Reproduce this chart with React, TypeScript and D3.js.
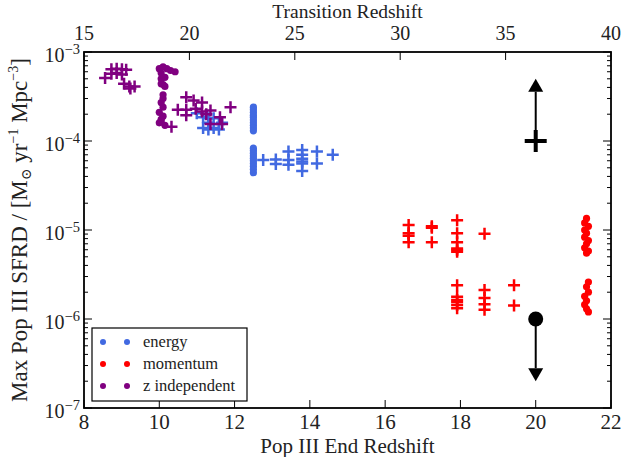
import React from "react";
import * as d3 from "d3";

// ---------- data ----------
// dots: x = Pop III end redshift (bottom axis); pluses: x = transition redshift (top axis)
const energyDots: [number, number][] = [
  [12.5, 2.4e-4], [12.5, 2.25e-4], [12.5, 2.1e-4], [12.5, 1.95e-4], [12.5, 1.85e-4],
  [12.5, 1.72e-4], [12.5, 1.6e-4], [12.5, 1.5e-4], [12.5, 1.4e-4], [12.5, 1.3e-4],
  [12.5, 8.3e-5], [12.5, 7.8e-5], [12.5, 7.3e-5], [12.5, 6.8e-5], [12.5, 6.4e-5],
  [12.5, 6.0e-5], [12.5, 5.6e-5], [12.5, 5.2e-5], [12.5, 4.8e-5], [12.5, 4.4e-5],
];
const energyPlus: [number, number][] = [
  [20.35, 2.05e-4], [20.65, 1.85e-4], [20.9, 1.8e-4], [20.65, 1.4e-4], [20.9, 1.6e-4],
  [21.15, 1.8e-4], [21.15, 1.4e-4], [21.4, 1.55e-4], [21.4, 1.35e-4], [21.55, 1.6e-4],
  [20.9, 1.35e-4],
  [23.5, 6.1e-5], [24.1, 6.2e-5], [24.1, 5.5e-5], [24.7, 7.6e-5], [24.7, 6.1e-5],
  [24.7, 5.4e-5], [25.35, 7.9e-5], [25.35, 7.0e-5], [25.35, 6.3e-5], [25.35, 5.9e-5],
  [25.35, 5.6e-5], [25.35, 4.6e-5], [26.05, 7.6e-5], [26.05, 5.6e-5], [26.8, 7.0e-5],
];
const momentumDots: [number, number][] = [
  [21.35, 1.35e-5], [21.3, 1.2e-5], [21.4, 1.1e-5], [21.3, 1.0e-5], [21.35, 9.2e-6],
  [21.3, 8.3e-6], [21.4, 7.6e-6], [21.35, 7.0e-6], [21.3, 6.3e-6], [21.4, 5.8e-6],
  [21.35, 5.5e-6], [21.4, 2.6e-6], [21.35, 2.3e-6], [21.4, 2.0e-6], [21.3, 1.8e-6],
  [21.35, 1.6e-6], [21.3, 1.45e-6], [21.35, 1.3e-6], [21.4, 1.2e-6],
];
const momentumPlus: [number, number][] = [
  [30.4, 1.14e-5], [30.4, 9.2e-6], [30.4, 8.6e-6], [30.4, 7.3e-6],
  [31.5, 1.1e-5], [31.5, 1.06e-5], [31.5, 7.3e-6],
  [32.7, 1.29e-5], [32.7, 9.2e-6], [32.7, 7.3e-6], [32.7, 6.2e-6], [32.7, 5.95e-6], [32.7, 5.7e-6],
  [32.7, 2.4e-6], [32.7, 1.78e-6], [32.7, 1.63e-6], [32.7, 1.55e-6], [32.7, 1.44e-6], [32.7, 1.32e-6],
  [34.0, 9.05e-6], [34.0, 2.12e-6], [34.0, 1.72e-6], [34.0, 1.46e-6], [34.0, 1.27e-6],
  [35.4, 2.4e-6], [35.4, 1.42e-6],
];
const zindDots: [number, number][] = [
  [10.0, 6.5e-4], [10.1, 6.8e-4], [10.2, 6.5e-4], [10.3, 6.2e-4], [10.42, 6.0e-4],
  [10.05, 5.8e-4], [10.15, 5.2e-4], [10.05, 5.0e-4], [10.1, 4.3e-4], [10.15, 4.1e-4],
  [10.05, 4.4e-4], [10.1, 3.3e-4], [10.1, 3.0e-4], [10.05, 2.7e-4], [10.1, 2.4e-4],
  [10.0, 2.1e-4], [10.1, 1.9e-4], [10.05, 1.75e-4], [10.0, 1.6e-4], [10.15, 1.5e-4],
  [10.05, 1.65e-4],
];
const zindPlus: [number, number][] = [
  [16.0, 5.1e-4], [16.3, 6.4e-4], [16.55, 6.5e-4], [16.8, 6.4e-4], [17.0, 6.3e-4],
  [16.3, 5.7e-4], [16.55, 5.8e-4], [16.8, 5.6e-4], [16.9, 4.4e-4], [17.15, 4.1e-4],
  [17.4, 4.1e-4], [17.2, 3.9e-4],
  [19.85, 3.1e-4], [20.2, 2.85e-4], [20.6, 2.7e-4], [19.45, 2.25e-4], [19.85, 2.25e-4],
  [19.85, 1.95e-4], [20.3, 2.3e-4], [20.6, 2.15e-4], [21.0, 2.2e-4], [21.45, 1.85e-4],
  [21.55, 1.55e-4], [21.0, 1.55e-4], [19.15, 1.45e-4], [21.95, 2.4e-4], [20.8, 2.0e-4],
];
// observational limits (bottom axis x)
const lowerLimit: [number, number, number] = [20, 1e-4, 5e-4]; // plus, arrow up to
const upperLimit: [number, number, number] = [20, 1e-6, 2e-7]; // dot, arrow down to

const bottomTicks = [8, 10, 12, 14, 16, 18, 20, 22];
const topTicks = [15, 20, 25, 30, 35, 40];
const yExponents = [-3, -4, -5, -6, -7];
const legendLabels = ["energy", "momentum", "z independent"];
const colors = ["#4169E1", "#FF0000", "#800080"];

// ---------- layout ----------
const W = 622, H = 457;
const L = 84, R = 611, T = 52, B = 408;
const FONT = "'Liberation Serif', 'DejaVu Serif', serif";

export default function App() {
  const x = d3.scaleLinear().domain([8, 22]).range([L, R]);
  const xt = d3.scaleLinear().domain([15, 40]).range([L, R]);
  const y = d3.scaleLog().domain([1e-7, 1e-3]).range([B, T]);

  const minor: number[] = [];
  for (let e = -7; e < -3; e++) for (let m = 2; m <= 9; m++) minor.push(m * Math.pow(10, e));

  const plus = (cx: number, cy: number, h: number, col: string, sw: number, k: string) => (
    <path key={k} d={`M${cx - h},${cy}H${cx + h}M${cx},${cy - h}V${cy + h}`} stroke={col} strokeWidth={sw} fill="none" />
  );

  const groupsDots = [energyDots, momentumDots, zindDots];
  const groupsPlus = [energyPlus, momentumPlus, zindPlus];

  const lx = x(lowerLimit[0]);
  const ly0 = y(lowerLimit[1]);
  const ly1 = y(lowerLimit[2]);
  const ux = x(upperLimit[0]);
  const uy0 = y(upperLimit[1]);
  const uy1 = y(upperLimit[2]);
  const ah = 13, aw = 7.5;

  return (
    <svg width={W} height={H} style={{ position: "absolute", left: 0, top: 0, background: "#fff" }} fontFamily={FONT}>
      <rect width={W} height={H} fill="#fff" />
      {/* data */}
      {[0, 1, 2].map((g) => (
        <g key={g}>
          {groupsPlus[g].map((d, i) => plus(xt(d[0]), y(d[1]), 6, colors[g], 2.5, `p${g}-${i}`))}
          {groupsDots[g].map((d, i) => (
            <circle key={`d${g}-${i}`} cx={x(d[0])} cy={y(d[1])} r={3.6} fill={colors[g]} />
          ))}
        </g>
      ))}
      {/* limits */}
      <line x1={lx} x2={lx} y1={ly0} y2={ly1 + ah} stroke="#000" strokeWidth={2} />
      <path d={`M${lx},${ly1}L${lx - aw},${ly1 + ah}L${lx + aw},${ly1 + ah}Z`} fill="#000" />
      {plus(lx, ly0, 11, "#000", 4, "lim-plus")}
      <line x1={ux} x2={ux} y1={uy0} y2={uy1 - ah} stroke="#000" strokeWidth={2} />
      <path d={`M${ux},${uy1}L${ux - aw},${uy1 - ah}L${ux + aw},${uy1 - ah}Z`} fill="#000" />
      <circle cx={ux} cy={uy0} r={7.5} fill="#000" />

      {/* ticks */}
      <g stroke="#000" strokeWidth={1}>
        {yExponents.map((e) => {
          const yy = y(Math.pow(10, e));
          return (
            <g key={`ym${e}`}>
              <line x1={L} x2={L + 8} y1={yy} y2={yy} />
              <line x1={R} x2={R - 8} y1={yy} y2={yy} />
            </g>
          );
        })}
        {minor.map((v, i) => (
          <g key={`yn${i}`}>
            <line x1={L} x2={L + 4} y1={y(v)} y2={y(v)} />
            <line x1={R} x2={R - 4} y1={y(v)} y2={y(v)} />
          </g>
        ))}
        {bottomTicks.map((t) => (
          <line key={`bt${t}`} x1={x(t)} x2={x(t)} y1={B} y2={B - 8} />
        ))}
        {topTicks.map((t) => (
          <line key={`tt${t}`} x1={xt(t)} x2={xt(t)} y1={T} y2={T + 8} />
        ))}
      </g>
      <rect x={L} y={T} width={R - L} height={B - T} fill="none" stroke="#000" strokeWidth={1.8} />

      {/* tick labels */}
      <g fontSize={21} fill="#222">
        {bottomTicks.map((t) => (
          <text key={`bl${t}`} x={x(t)} y={429} textAnchor="middle">{t}</text>
        ))}
        {topTicks.map((t) => (
          <text key={`tl${t}`} x={xt(t)} y={39.5} textAnchor="middle" fontSize={20}>{t}</text>
        ))}
        {yExponents.map((e) => (
          <text key={`yl${e}`} x={80} y={y(Math.pow(10, e)) + 10} textAnchor="end" fontSize={20}>
            10<tspan fontSize={14.5} dy={-8}>{`\u2212${-e}`}</tspan>
          </text>
        ))}
      </g>

      {/* axis labels */}
      <g fontSize={21} fill="#222">
        <text x={(L + R) / 2} y={453} textAnchor="middle">Pop III End Redshift</text>
        <text x={(L + R) / 2} y={17.5} textAnchor="middle" fontSize={19.5}>Transition Redshift</text>
        <text transform={`translate(27,${(T + B) / 2}) rotate(-90)`} textAnchor="middle" fontSize={23}>
          Max Pop III SFRD / [M<tspan fontSize={14} dy={4}>{"\u2299"}</tspan>
          <tspan dy={-4}> yr</tspan><tspan fontSize={14} dy={-9}>{"\u22121"}</tspan>
          <tspan dy={9}> Mpc</tspan><tspan fontSize={14} dy={-9}>{"\u22123"}</tspan>
          <tspan dy={9}>]</tspan>
        </text>
      </g>

      {/* legend */}
      <rect x={92} y={328} width={155} height={73} fill="#fff" stroke="#000" strokeWidth={1.2} />
      {legendLabels.map((lab, i) => {
        const cy = 342 + i * 22;
        return (
          <g key={lab}>
            <circle cx={103} cy={cy} r={3} fill={colors[i]} />
            <circle cx={127} cy={cy} r={3} fill={colors[i]} />
            <text x={143} y={cy + 5} fontSize={16.5} fill="#222">{lab}</text>
          </g>
        );
      })}
    </svg>
  );
}
